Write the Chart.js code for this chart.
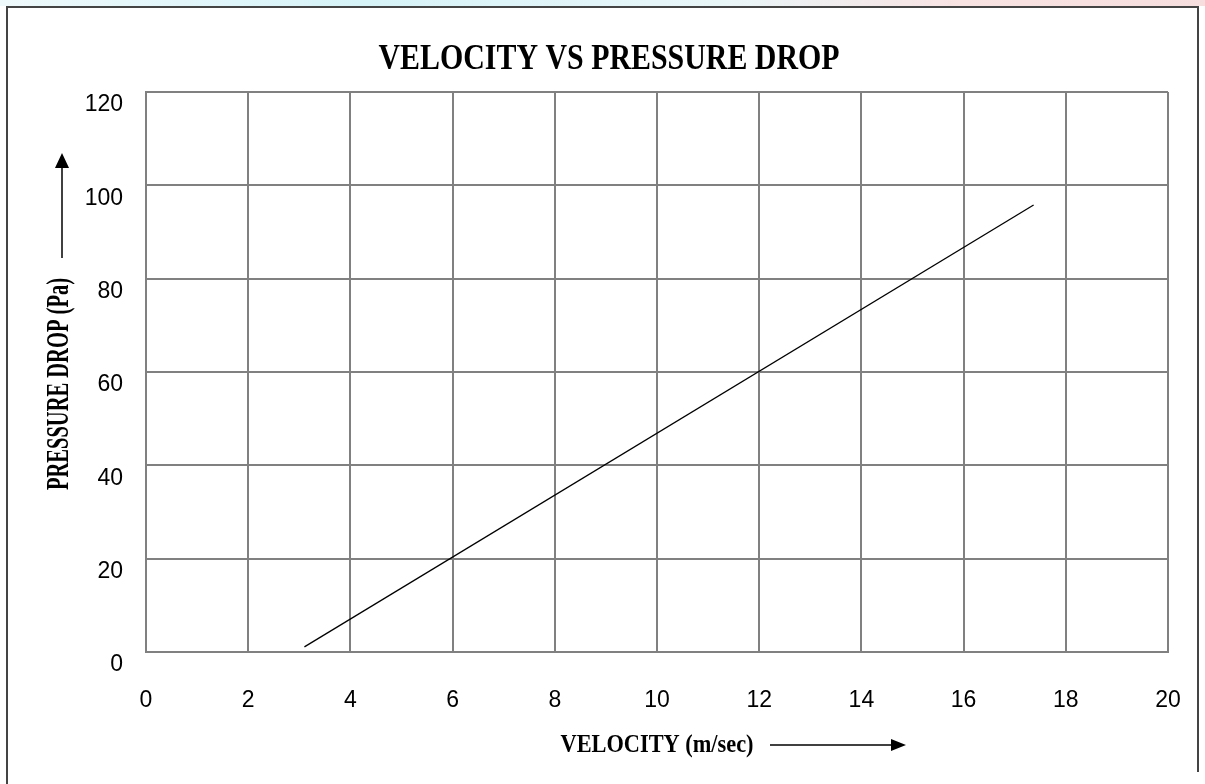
<!DOCTYPE html>
<html>
<head>
<meta charset="utf-8">
<script src="https://cdn.jsdelivr.net/npm/chart.js@4"></script>
<style>
  html, body { margin: 0; padding: 0; background: #fff; overflow: hidden; }
  #wrap { width: 1205px; height: 784px; position: relative; }
</style>
</head>
<body>
<div id="wrap"><canvas id="myChart"></canvas></div>
<script>
// Data
const velocity = [3.1, 17.37];       // m/sec
const pressureDrop = [1.1, 95.8];    // Pa
const xTicks = [0, 2, 4, 6, 8, 10, 12, 14, 16, 18, 20];
const yTicks = [0, 20, 40, 60, 80, 100, 120];

const chartTitle = "VELOCITY VS PRESSURE DROP";
const xTitle = "VELOCITY (m/sec)";
const yTitle = "PRESSURE DROP (Pa)";

const ctx = document.getElementById("myChart").getContext("2d");

// draw condensed serif text, squeezed to a given width
function squeezedText(c, text, size, width, x, y, angle) {
  c.save();
  c.font = "bold " + size + "px 'Liberation Serif', 'Times New Roman', serif";
  c.fillStyle = "#000";
  c.textAlign = "center";
  c.textBaseline = "middle";
  const w = c.measureText(text).width;
  c.translate(x, y);
  c.rotate(angle);
  c.scale(width / w, 1);
  c.fillText(text, 0, 0);
  c.restore();
}

function arrowHead(c, tipX, tipY, dir, len, half) {
  c.beginPath();
  if (dir === "up") {
    c.moveTo(tipX, tipY);
    c.lineTo(tipX - half, tipY + len);
    c.lineTo(tipX + half, tipY + len);
  } else {
    c.moveTo(tipX, tipY);
    c.lineTo(tipX - len, tipY - half);
    c.lineTo(tipX - len, tipY + half);
  }
  c.closePath();
  c.fill();
}

// frame, heading, axis titles and arrows
const decor = {
  id: "decor",
  beforeDraw(chart) {
    const c = chart.ctx;
    c.save();
    const g = c.createLinearGradient(0, 0, chart.width, 0);
    g.addColorStop(0, "#eef9fb");
    g.addColorStop(0.3, "#d6f3f8");
    g.addColorStop(0.6, "#e9f6f8");
    g.addColorStop(0.8, "#f9e2e2");
    g.addColorStop(1, "#f6dede");
    c.fillStyle = g;
    c.fillRect(0, 0, chart.width, 6);
    c.strokeStyle = "#444";
    c.lineWidth = 2;
    c.beginPath();
    c.moveTo(7, chart.height);
    c.lineTo(7, 7);
    c.lineTo(1198, 7);
    c.lineTo(1198, chart.height - 12);
    c.stroke();
    c.restore();
  },
  afterDraw(chart) {
    const c = chart.ctx;
    const a = chart.chartArea;
    const midX = (a.left + a.right) / 2;
    squeezedText(c, chartTitle, 36, 461, 609, 60, 0);
    squeezedText(c, xTitle, 26, 193, midX, a.bottom + 93, 0);
    squeezedText(c, yTitle, 32, 212, 60, 384, -Math.PI / 2);

    c.save();
    c.strokeStyle = "#000";
    c.fillStyle = "#000";
    c.lineWidth = 1.5;
    // x arrow
    c.beginPath();
    c.moveTo(770, a.bottom + 93);
    c.lineTo(892, a.bottom + 93);
    c.stroke();
    arrowHead(c, 906, a.bottom + 93, "right", 15, 6);
    // y arrow
    c.beginPath();
    c.moveTo(62, 258);
    c.lineTo(62, 166);
    c.stroke();
    arrowHead(c, 62, 153, "up", 15, 7);
    c.restore();
  }
};

const tickFont = { family: "'Liberation Sans', Arial, sans-serif", size: 23 };

const config = {
  type: "scatter",
  data: {
    datasets: [
      {
        label: "Pressure drop",
        data: velocity.map((v, i) => ({ x: v, y: pressureDrop[i] })),
        showLine: true,
        borderColor: "#000",
        borderWidth: 1.3,
        pointRadius: 0,
        pointHoverRadius: 0,
        fill: false,
      },
    ],
  },
  options: {
    responsive: true,
    maintainAspectRatio: false,
    animation: false,
    layout: { padding: { top: 92, right: 37, left: 0, bottom: 0 } },
    scales: {
      x: {
        type: "linear",
        min: 0,
        max: 20,
        afterBuildTicks: (s) => { s.ticks = xTicks.map((v) => ({ value: v })); },
        afterFit: (s) => { s.height = 132; },
        ticks: { color: "#000", font: tickFont, padding: 0, maxRotation: 0 },
        grid: {
          color: "#808080",
          lineWidth: 2,
          drawTicks: true,
          tickLength: 35,
          tickColor: "rgba(0,0,0,0)",
        },
        border: { color: "#808080", width: 2 },
      },
      y: {
        type: "linear",
        min: 0,
        max: 120,
        afterBuildTicks: (s) => { s.ticks = yTicks.map((v) => ({ value: v })); },
        afterFit: (s) => { s.width = 146; },
        ticks: { color: "#000", font: tickFont, padding: 23, labelOffset: 13 },
        grid: { color: "#808080", lineWidth: 2, drawTicks: false },
        border: { color: "#808080", width: 2 },
      },
    },
    plugins: {
      legend: { display: false },
      tooltip: { enabled: false },
      title: { display: false },
    },
  },
  plugins: [decor],
};

const myChart = new Chart(ctx, config);
</script>
</body>
</html>
